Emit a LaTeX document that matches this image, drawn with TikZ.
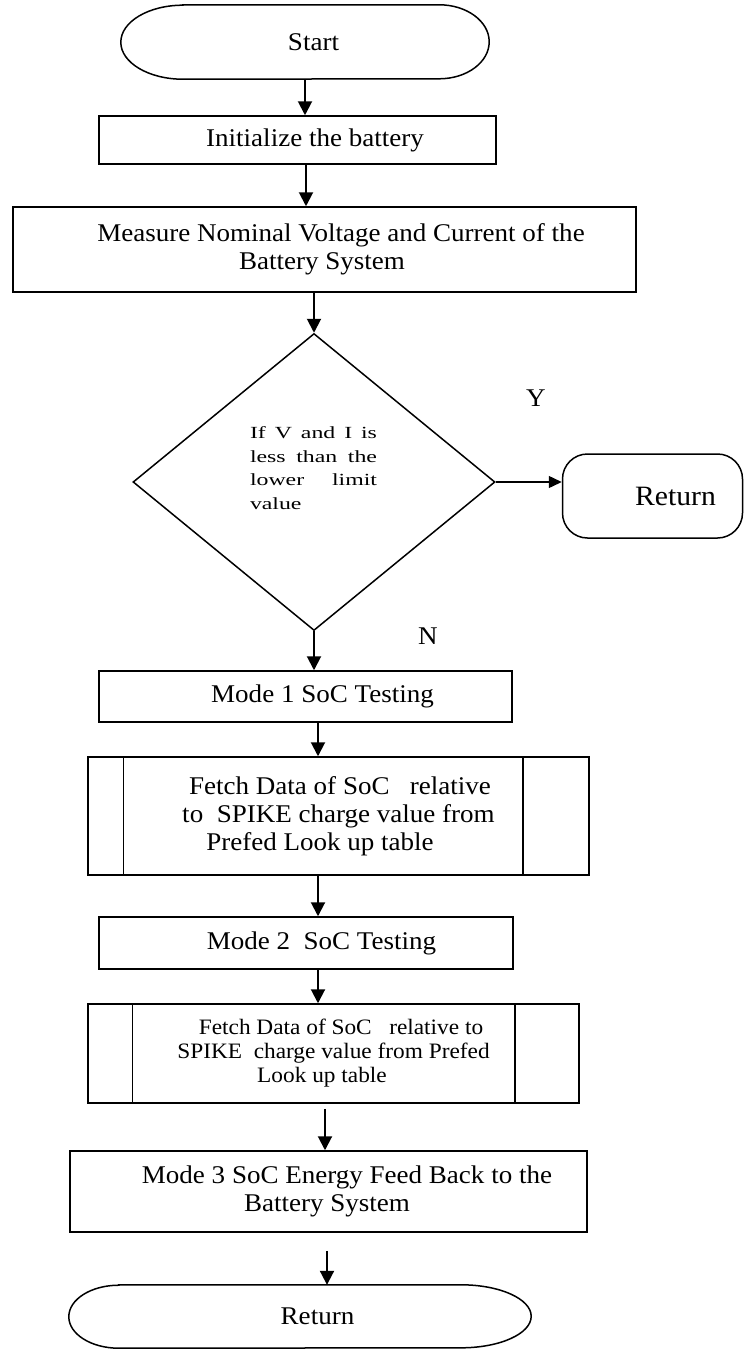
\documentclass[tikz,border=0pt]{standalone}
\usepackage{fontspec}
\setmainfont{Liberation Serif}[FakeStretch=1.06]
\newfontfamily\widefont{Liberation Serif}[FakeStretch=1.4]
\usetikzlibrary{arrows.meta,shapes.geometric,calc}
\begin{document}
\begin{tikzpicture}[x=1pt,y=-1pt,
  ln/.style={line width=1.5pt,draw=black},
  procbox/.style={ln,draw,rectangle,inner sep=0pt,align=center,font=\fontsize{25.5}{28}\selectfont},
  termbox/.style={rectangle,inner sep=0pt,align=center,font=\fontsize{25.5}{28}\selectfont},
  fetchbox/.style={ln,draw,rectangle,inner sep=0pt,align=center},
  decbox/.style={ln,draw,diamond,inner sep=0pt},
  retbox/.style={ln,draw,rectangle,rounded corners=25pt,inner sep=0pt,align=center,font=\fontsize{28}{30}\selectfont},
  arr/.style={line width=2pt,-{Triangle[length=14pt,width=14pt]}},
  arrthin/.style={line width=1.4pt,-{Triangle[length=13pt,width=12pt]}},
  lab/.style={font=\fontsize{25.5}{28}\selectfont,inner sep=0pt}
]
\useasboundingbox[fill=white] (0,0) rectangle (744,1349);

% Start terminator
\node[termbox,minimum width=368pt,minimum height=74pt] (start) at (305,42) {\hspace*{17pt}Start};
\draw[ln] ([xshift=62pt]start.north west) -- ([xshift=-50pt]start.north east)
  arc[start angle=90,end angle=-90,x radius=50pt,y radius=37pt]
  -- ([xshift=62pt]start.south west)
  arc[start angle=270,end angle=90,x radius=62pt,y radius=37pt] -- cycle;

\node[procbox,minimum width=397pt,minimum height=48pt] (init) at (297.5,140) {\hspace*{35pt}Initialize the battery};

\node[procbox,minimum width=623pt,minimum height=85pt] (measure) at (324.5,249.5)
  {\hspace*{33pt}Measure Nominal Voltage and Current of the\\Battery System\hspace*{5pt}};

\node[decbox,minimum width=362pt,minimum height=297pt] (dec) at (314,482) {};
\node[inner sep=0pt,align=left,font=\widefont\fontsize{17}{23.5}\selectfont] (dectxt) at (313.5,468)
  {\makebox[127pt][s]{If V and I is}\\\makebox[127pt][s]{less than the}\\\makebox[127pt][s]{lower limit}\\\makebox[127pt][l]{value}};

\node[retbox,minimum width=180pt,minimum height=84pt] (retR) at (652.5,496) {\hspace*{46pt}Return};

\node[lab] (ylab) at (536,398) {Y};
\node[lab] (nlab) at (428,636) {N};

\node[procbox,minimum width=413pt,minimum height=51pt] (mode1) at (305.5,696.5) {\hspace*{34pt}Mode 1 SoC Testing};

\node[fetchbox,minimum width=501pt,minimum height=118pt,font=\fontsize{25.5}{28}\selectfont] (f1) at (338.5,816)
  {\hspace*{3pt}Fetch Data of SoC\ \ \ relative\\to\ \ SPIKE charge value from\hspace*{37pt}\\Prefed Look up table\hspace*{37pt}};
\draw[ln] ([xshift=36pt]f1.north west) -- ([xshift=36pt]f1.south west);
\draw[ln] ([xshift=-67pt]f1.north east) -- ([xshift=-67pt]f1.south east);

\node[procbox,minimum width=414pt,minimum height=52pt] (mode2) at (306,943) {\hspace*{31pt}Mode 2\ \ SoC Testing};

\node[fetchbox,minimum width=491pt,minimum height=99pt,font=\fontsize{22}{24}\selectfont] (f2) at (333.5,1053.5)
  {\hspace*{15pt}Fetch Data of SoC\ \ \ relative to\\SPIKE\ \ charge value from Prefed\hspace*{23pt}\\Look up table\hspace*{23pt}};
\draw[ln] ([xshift=45pt]f2.north west) -- ([xshift=45pt]f2.south west);
\draw[ln] ([xshift=-65pt]f2.north east) -- ([xshift=-65pt]f2.south east);

\node[procbox,minimum width=517pt,minimum height=81pt] (mode3) at (328.5,1191.5)
  {\hspace*{37pt}Mode 3 SoC Energy Feed Back to the\\Battery System\hspace*{3pt}};

% Bottom Return terminator
\node[termbox,minimum width=462pt,minimum height=63pt] (retB) at (300,1316.5) {\hspace*{35pt}Return};
\draw[ln] ([xshift=50pt]retB.north west) -- ([xshift=-70pt]retB.north east)
  arc[start angle=90,end angle=-90,x radius=70pt,y radius=31.5pt]
  -- ([xshift=50pt]retB.south west)
  arc[start angle=270,end angle=90,x radius=50pt,y radius=31.5pt] -- cycle;

% Connectors
\draw[arr] (start.south) -- (start.south |- init.north);
\draw[arr] ([xshift=8.5pt]init.south) -- ([xshift=8.5pt]init.south |- measure.north);
\draw[arr] (measure.south -| dec.north) -- (dec.north);
\draw[arrthin] (dec.east) -- (dec.east -| retR.west);
\draw[arr] (dec.south) -- (dec.south |- mode1.north);
\draw[arr] ([xshift=12.5pt]mode1.south) -- ([xshift=12.5pt]mode1.south |- f1.north);
\draw[arr] ([xshift=-20.5pt]f1.south) -- ([xshift=-20.5pt]f1.south |- mode2.north);
\draw[arr] ([xshift=12pt]mode2.south) -- ([xshift=12pt]mode2.south |- f2.north);
\draw[arr] ([xshift=-8.5pt,yshift=-5pt]f2.south) -- ([xshift=-8.5pt]f2.south |- mode3.north);
\draw[arr] ([xshift=-1.5pt,yshift=-18pt]mode3.south) -- ([xshift=-1.5pt]mode3.south |- retB.north);
\end{tikzpicture}
\end{document}
